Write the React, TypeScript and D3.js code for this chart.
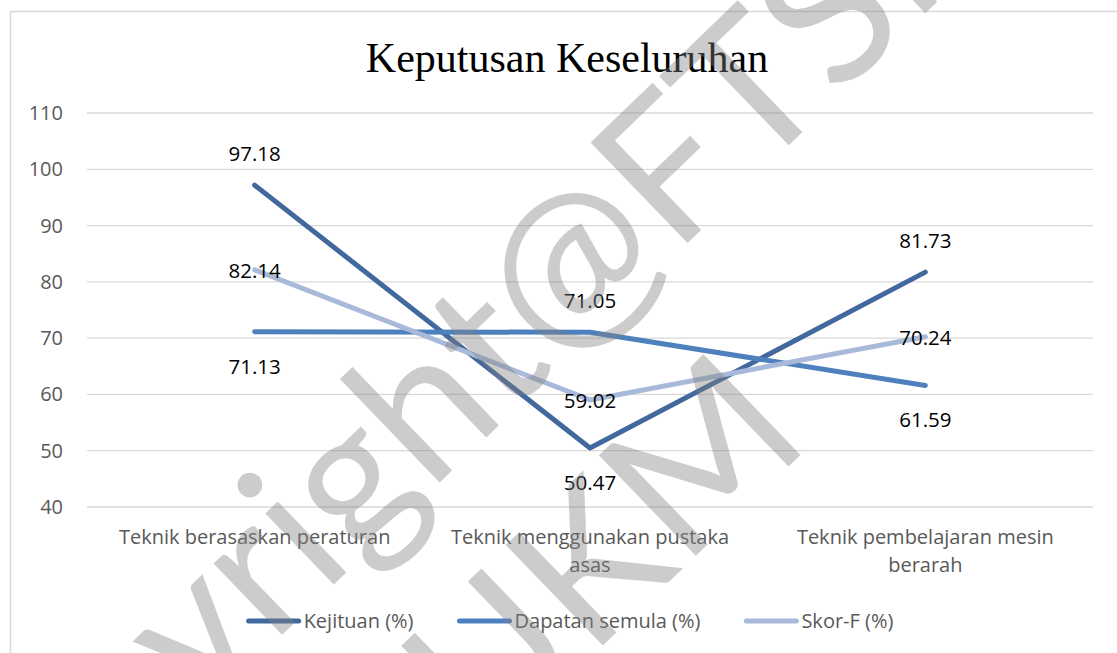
import React from "react";
import * as d3 from "d3";

const categories = [
  "Teknik berasaskan peraturan",
  "Teknik menggunakan pustaka asas",
  "Teknik pembelajaran mesin berarah",
];
const seriesNames = ["Kejituan (%)", "Dapatan semula (%)", "Skor-F (%)"];
const kejituan = [97.18, 50.47, 81.73];
const dapatanSemula = [71.13, 71.05, 61.59];
const skorF = [82.14, 59.02, 70.24];
const yTicks = [40, 50, 60, 70, 80, 90, 100, 110];
const title = "Keputusan Keseluruhan";
const watermarkLines = ["Copyright@FTSM", "UKM"];

// label placement per series per point (style)
const placements = [
  ["above", "below", "above"],
  ["below", "above", "below"],
  ["center", "center", "center"],
];
const colors = ["#41699D", "#4E80BD", "#A8B9D9"];

const W = 1117;
const H = 653;
const FONT = "'Open Sans', sans-serif";

function measure(text: string, font: string): number {
  const c = document.createElement("canvas");
  const ctx = c.getContext("2d")!;
  ctx.font = font;
  return ctx.measureText(text).width;
}

function wrap(text: string, maxW: number, font: string): string[] {
  const words = text.split(" ");
  const lines: string[] = [];
  let cur = "";
  for (const w of words) {
    const t = cur ? cur + " " + w : w;
    if (measure(t, font) > maxW && cur) {
      lines.push(cur);
      cur = w;
    } else cur = t;
  }
  if (cur) lines.push(cur);
  return lines;
}

export default function App() {
  const series = [kejituan, dapatanSemula, skorF];
  const x = d3.scaleBand<string>().domain(categories).range([87, 1093]);
  const cx = (c: string) => (x(c) as number) + x.bandwidth() / 2;
  const y = d3.scaleLinear().domain([40, 110]).range([507, 113]);
  const line = d3
    .line<number>()
    .x((_, i) => cx(categories[i]))
    .y((d) => y(d));

  const catFont = `20px ${FONT}`;
  const legendFont = `20px ${FONT}`;
  const lineLen = 54;
  const textGap = 3;
  const itemGap = 44;
  const widths = seriesNames.map((n) => measure(n, legendFont));
  const total =
    widths.reduce((a, b) => a + b, 0) +
    seriesNames.length * (lineLen + textGap) +
    itemGap * (seriesNames.length - 1);
  let lx = 570 - total / 2;
  const legendItems = seriesNames.map((n, i) => {
    const start = lx;
    lx += lineLen + textGap + widths[i] + itemGap;
    return { n, start, color: colors[i] };
  });

  return (
    <svg
      width={W}
      height={H}
      style={{ position: "absolute", left: 0, top: 0, background: "#fff" }}
    >
      <rect x={0} y={0} width={W} height={H} fill="#fff" />
      <rect
        x={10.5}
        y={11.5}
        width={1200}
        height={700}
        fill="none"
        stroke="#D9D9D9"
        strokeWidth={1.5}
      />
      <text
        x={567}
        y={72}
        textAnchor="middle"
        fontFamily="'Liberation Serif', 'Times New Roman', serif"
        fontSize={42}
        fill="#000"
      >
        {title}
      </text>
      {yTicks.map((t) => (
        <g key={t}>
          <line
            x1={87}
            x2={1093}
            y1={y(t)}
            y2={y(t)}
            stroke="#D9D9D9"
            strokeWidth={1.3}
          />
          <text
            x={63}
            y={y(t) + 7}
            textAnchor="end"
            fontFamily={FONT}
            fontSize={20}
            fill="#595959"
          >
            {t}
          </text>
        </g>
      ))}
      {categories.map((c) => {
        const lines = wrap(c, x.bandwidth() - 30, catFont);
        return (
          <text
            key={c}
            textAnchor="middle"
            fontFamily={FONT}
            fontSize={20}
            fill="#595959"
          >
            {lines.map((l, i) => (
              <tspan key={i} x={cx(c)} y={544 + i * 28}>
                {l}
              </tspan>
            ))}
          </text>
        );
      })}
      {series.map((s, si) => (
        <path
          key={si}
          d={line(s) as string}
          fill="none"
          stroke={colors[si]}
          strokeWidth={5}
          strokeLinecap="round"
          strokeLinejoin="round"
        />
      ))}
      {series.map((s, si) =>
        s.map((v, i) => {
          const p = placements[si][i];
          const py = y(v);
          const ty = p === "above" ? py - 24 : p === "below" ? py + 42 : py + 8;
          return (
            <text
              key={`${si}-${i}`}
              x={cx(categories[i])}
              y={ty}
              textAnchor="middle"
              fontFamily={FONT}
              fontSize={20.5}
              fill="#000"
            >
              {v.toFixed(2)}
            </text>
          );
        })
      )}
      {legendItems.map((it) => (
        <g key={it.n}>
          <line
            x1={it.start + 2}
            x2={it.start + lineLen - 2}
            y1={621}
            y2={621}
            stroke={it.color}
            strokeWidth={5}
            strokeLinecap="round"
          />
          <text
            x={it.start + lineLen + textGap}
            y={628}
            fontFamily={FONT}
            fontSize={20}
            fill="#595959"
          >
            {it.n}
          </text>
        </g>
      ))}
      <g
        fill="#808080"
        fillOpacity={0.4}
        fontFamily="Lato, 'Open Sans', sans-serif"
        fontSize={195}
        style={{ pointerEvents: "none" }}
      >
        <text transform="translate(497,427) rotate(-44)" textAnchor="middle">
          {watermarkLines[0]}
        </text>
        <text transform="translate(650,600) rotate(-44)" textAnchor="middle">
          {watermarkLines[1]}
        </text>
      </g>
    </svg>
  );
}
